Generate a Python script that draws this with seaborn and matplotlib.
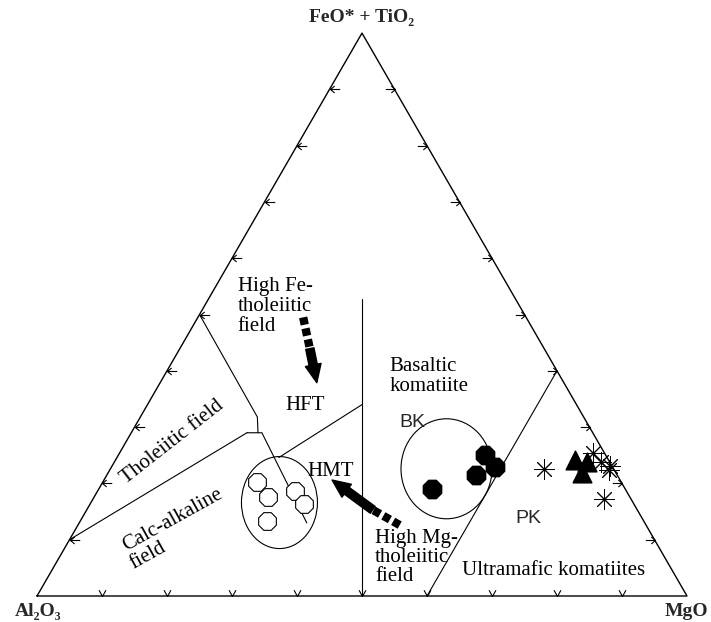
import numpy as np
import pandas as pd
import matplotlib
matplotlib.use("Agg")
import matplotlib.pyplot as plt
from matplotlib.path import Path
from matplotlib.patches import Ellipse
import seaborn as sns

# sample groups, cation proportions (Al2O3, FeO*+TiO2, MgO) in %
open_oct_al = [56.0, 55.7, 58.0, 50.9, 50.7]
open_oct_fe = [20.3, 17.6, 13.3, 18.7, 16.4]
open_oct_mg = [23.7, 26.7, 28.7, 30.4, 32.9]

fill_oct_al = [29.7, 21.7, 18.5, 18.0]
fill_oct_fe = [19.0, 21.5, 25.1, 23.0]
fill_oct_mg = [51.3, 56.8, 56.4, 59.0]

tri_al = [5.1, 3.5, 5.2]
tri_fe = [24.2, 23.8, 21.9]
tri_mg = [70.7, 72.7, 72.9]

star_al = [10.7, 4.1, 1.8, 1.3, 0.8, 0.3]
star_fe = [22.6, 17.3, 25.4, 23.8, 22.4, 23.1]
star_mg = [66.7, 78.6, 72.8, 74.9, 76.8, 76.6]

# field boundaries (Al, Fe, Mg)
boundaries = [
    [(50, 50, 0), (50.2, 31.8, 18.0), (51.5, 29.0, 19.5)],
    [(53.2, 29.0, 17.8), (50.9, 29.0, 20.1), (52.0, 13.0, 35.0)],
    [(90, 10, 0), (53.2, 29.0, 17.8)],
    [(50.5, 24.6, 24.9), (33.0, 34.0, 33.0)],
    [(50, 0, 50), (23.6, 52.8, 23.6)],
    [(40, 0, 60), (0, 40, 60)],
]
tick_values = [10, 20, 30, 40, 50, 60, 70, 80, 90]


def tern(al, fe, mg):
    al, fe, mg = np.asarray(al, float), np.asarray(fe, float), np.asarray(mg, float)
    s = al + fe + mg
    return (mg + fe / 2) / s, fe / s * np.sqrt(3) / 2


sns.set_style("white")
plt.rcParams["font.family"] = ["Liberation Serif", "DejaVu Serif"]

fig = plt.figure(figsize=(7.11, 6.22), dpi=100)
ax = fig.add_axes([0, 0, 1, 1])

# triangle
tx, ty = tern([100, 0, 0, 100], [0, 100, 0, 0], [0, 0, 100, 0])
ax.plot(tx, ty, color="black", lw=1.0)

# ticks
v_mark = Path([(-0.55, 1), (0, 0), (0.55, 1)], [Path.MOVETO, Path.LINETO, Path.LINETO])
l_mark = Path([(0.6, 0.5), (0, 0), (0.6, -0.5), (0, 0), (1.4, 0)],
              [Path.MOVETO, Path.LINETO, Path.LINETO, Path.MOVETO, Path.LINETO])
r_mark = Path([(-0.6, 0.5), (0, 0), (-0.6, -0.5), (0, 0), (-1.4, 0)],
              [Path.MOVETO, Path.LINETO, Path.LINETO, Path.MOVETO, Path.LINETO])
tv = np.array(tick_values)
bx, by = tern(100 - tv, 0 * tv, tv)
ax.plot(bx, by, ls="none", marker=v_mark, ms=9, mfc="none", mec="black", mew=0.8)
lx, ly = tern(100 - tv, tv, 0 * tv)
ax.plot(lx, ly, ls="none", marker=l_mark, ms=14, mfc="none", mec="black", mew=0.8)
rx, ry = tern(0 * tv, tv, 100 - tv)
ax.plot(rx, ry, ls="none", marker=r_mark, ms=14, mfc="none", mec="black", mew=0.8)

for seg in boundaries:
    a, f, m = zip(*seg)
    x, y = tern(a, f, m)
    ax.plot(x, y, color="black", lw=0.8)

# sample group outlines
for c, w, h in [((54.4, 16.6, 29.0), 76, 92), ((25.7, 22.6, 51.7), 91, 100)]:
    cx, cy = tern(*c)
    ax.add_patch(Ellipse((cx, cy), w / 650, h / 650, fill=False, ec="black", lw=0.8))

# points
groups = []
for name, al, fe, mg in [("open", open_oct_al, open_oct_fe, open_oct_mg),
                         ("filled", fill_oct_al, fill_oct_fe, fill_oct_mg),
                         ("tri", tri_al, tri_fe, tri_mg),
                         ("star", star_al, star_fe, star_mg)]:
    x, y = tern(al, fe, mg)
    groups.append(pd.DataFrame({"x": x, "y": y, "group": name}))
df = pd.concat(groups, ignore_index=True)

sns.scatterplot(data=df[df.group == "open"], x="x", y="y", marker="8", s=190,
                facecolor="white", edgecolor="black", linewidth=0.8, ax=ax, zorder=3)
sns.scatterplot(data=df[df.group == "filled"], x="x", y="y", marker="8", s=200,
                color="black", edgecolor="black", ax=ax, zorder=3)
sns.scatterplot(data=df[df.group == "tri"], x="x", y="y", marker="^", s=180,
                color="black", edgecolor="black", ax=ax, zorder=3)
sns.scatterplot(data=df[df.group == "star"], x="x", y="y", marker=(8, 2, 0), s=200,
                color="black", linewidth=0.7, ax=ax, zorder=3)

# arrows
for tail, mid, tip in [((34.3, 49.5, 16.2), (36.05, 43.95, 20.0), (38.0, 37.9, 24.1)),
                       ((37.9, 12.6, 49.5), (40.7, 15.3, 44.0), (44.3, 20.6, 35.1))]:
    x, y = tern(*zip(tail, mid))
    ax.plot(x, y, color="black", lw=6, dashes=(0.9, 0.45), solid_capstyle="butt",
            dash_capstyle="butt")
    ax.annotate("", xy=tern(*tip), xytext=tern(*mid),
                arrowprops=dict(arrowstyle="simple,head_width=1.15,head_length=1.3,tail_width=0.6",
                                color="black", shrinkA=0, shrinkB=0))

# vertex labels
bold = dict(fontsize=14, fontweight="bold")
ax.annotate("FeO* + TiO₂", xy=tern(0, 100, 0), xytext=(0, 11.5), textcoords="offset points",
            ha="center", va="center", **bold)
ax.annotate("Al₂O₃", xy=tern(100, 0, 0), xytext=(0.7, -10.8), textcoords="offset points",
            ha="center", va="center", **bold)
ax.annotate("MgO", xy=tern(0, 0, 100), xytext=(15.5, -10.8), textcoords="offset points",
            ha="right", va="center", **bold)

# field labels
lab = dict(fontsize=15, color="black")
ax.text(*tern(43.4, 51.4, 5.2), "High Fe-\ntholeiitic\nfield", ha="left", va="center",
        linespacing=1.05, **lab)
ax.text(*tern(41.9, 33.8, 24.3), "HFT", ha="center", va="center", **lab)
ax.text(*tern(43.7, 22.1, 34.2), "HMT", ha="center", va="center", **lab)
ax.text(*tern(26.3, 39.0, 34.7), "Basaltic\nkomatiite", ha="left", va="center",
        linespacing=1.05, **lab)
ax.text(*tern(44.6, 6.8, 48.6), "High Mg-\ntholeiitic\nfield", ha="left", va="center",
        linespacing=1.0, **lab)
ax.text(*tern(18.3, 4.6, 77.1), "Ultramafic komatiites", ha="center", va="center", **lab)
ax.text(*tern(65.5, 27.4, 7.1), "Tholeiitic field", ha="center", va="center",
        rotation=38, rotation_mode="anchor", **lab)
ax.text(*tern(72.3, 13.5, 14.2), "Calc-alkaline", ha="center", va="center",
        rotation=29, rotation_mode="anchor", **lab)
ax.text(*tern(79.4, 7.1, 13.5), "field", ha="center", va="center",
        rotation=29, rotation_mode="anchor", **lab)
ax.text(*tern(26.8, 30.8, 42.4), "BK", ha="center", va="center", fontsize=14,
        family=["Liberation Sans", "DejaVu Sans"])
ax.text(*tern(17.5, 13.7, 68.8), "PK", ha="center", va="center", fontsize=14,
        family=["Liberation Sans", "DejaVu Sans"])

ax.set_xlim(-37 / 650, 674 / 650)
ax.set_ylim(-26 / 650, 596 / 650)
ax.axis("off")

fig.savefig("out.png", dpi=100)
